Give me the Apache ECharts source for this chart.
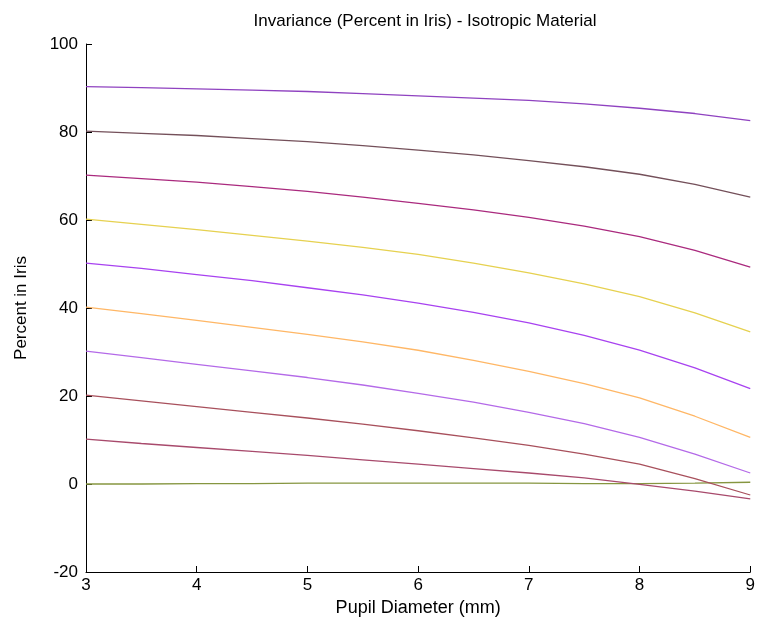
<!DOCTYPE html>
<html>
<head>
<meta charset="utf-8">
<script src="https://cdn.jsdelivr.net/npm/echarts@6/dist/echarts.min.js"></script>
<style>html,body{margin:0;padding:0;background:#fff;}#c{width:758px;height:625px;}</style>
</head>
<body>
<div id="c"></div>
<script>
const xValues = [3, 3.5, 4, 4.5, 5, 5.5, 6, 6.5, 7, 7.5, 8, 8.5, 9];
const c90 = [90.3, 90.1, 89.8, 89.5, 89.2, 88.7, 88.2, 87.7, 87.2, 86.4, 85.4, 84.2, 82.6];
const c80 = [80.2, 79.7, 79.2, 78.5, 77.8, 76.9, 75.9, 74.8, 73.5, 72.1, 70.4, 68.1, 65.2];
const c70 = [70.2, 69.4, 68.6, 67.6, 66.5, 65.2, 63.8, 62.3, 60.6, 58.6, 56.2, 53.1, 49.3];
const c60 = [60.2, 59.0, 57.8, 56.5, 55.2, 53.8, 52.2, 50.2, 48.0, 45.5, 42.6, 38.9, 34.6];
const c50 = [50.2, 49.0, 47.6, 46.2, 44.6, 43.0, 41.1, 39.0, 36.6, 33.8, 30.4, 26.4, 21.7];
const c40 = [40.2, 38.7, 37.2, 35.6, 34.0, 32.3, 30.4, 28.1, 25.6, 22.8, 19.6, 15.4, 10.6];
const c30 = [30.2, 28.7, 27.2, 25.7, 24.2, 22.5, 20.6, 18.6, 16.3, 13.7, 10.6, 6.8, 2.5];
const c20 = [20.2, 18.9, 17.6, 16.3, 15.0, 13.6, 12.1, 10.5, 8.8, 6.8, 4.5, 1.2, -2.5];
const c10 = [10.2, 9.2, 8.3, 7.4, 6.5, 5.5, 4.5, 3.5, 2.5, 1.4, -0.1, -1.6, -3.4];
const c0  = [0.0, 0.0, 0.1, 0.1, 0.2, 0.2, 0.2, 0.2, 0.2, 0.1, 0.1, 0.2, 0.4];
const curves = [c90, c80, c70, c60, c50, c40, c30, c20, c10, c0];
const colors = ['#8f42c0', '#74505a', '#aa2a7e', '#e6d150', '#a842f0', '#ffb766', '#b46ae8', '#a8505c', '#a84a6c', '#869640'];

const font = "'Liberation Sans', Arial, sans-serif";
const chart = echarts.init(document.getElementById('c'), null, {renderer: 'canvas'});
chart.setOption({
  animation: false,
  backgroundColor: '#fff',
  title: {
    text: 'Invariance (Percent in Iris) - Isotropic Material',
    left: 420, top: 8, textAlign: 'center',
    textStyle: {fontFamily: font, fontSize: 17, fontWeight: 'normal', color: '#000'}
  },
  grid: {left: 86, right: 4, top: 44, bottom: 53, containLabel: false},
  xAxis: {
    type: 'value', min: 3, max: 9, interval: 1,
    name: 'Pupil Diameter (mm)', nameLocation: 'middle', nameGap: 22,
    nameTextStyle: {fontFamily: font, fontSize: 18, color: '#000'},
    axisLine: {show: true, onZero: false, lineStyle: {color: '#000', width: 1}},
    axisTick: {show: true, inside: true, length: 6, lineStyle: {color: '#000'}},
    axisLabel: {fontFamily: font, fontSize: 17, color: '#000', margin: 5},
    splitLine: {show: false}
  },
  yAxis: {
    type: 'value', min: -20, max: 100, interval: 20,
    name: 'Percent in Iris', nameLocation: 'middle', nameGap: 56,
    nameTextStyle: {fontFamily: font, fontSize: 17, color: '#000'},
    axisLine: {show: true, onZero: false, lineStyle: {color: '#000', width: 1}},
    axisTick: {show: true, inside: true, length: 6, lineStyle: {color: '#000'}},
    axisLabel: {fontFamily: font, fontSize: 17, color: '#000', margin: 8},
    splitLine: {show: false}
  },
  series: curves.map((vals, i) => ({
    type: 'line',
    data: xValues.map((x, j) => [x, vals[j]]),
    smooth: false,
    showSymbol: false,
    lineStyle: {color: colors[i], width: 1.3},
    z: 10 - i
  }))
});
</script>
</body>
</html>
